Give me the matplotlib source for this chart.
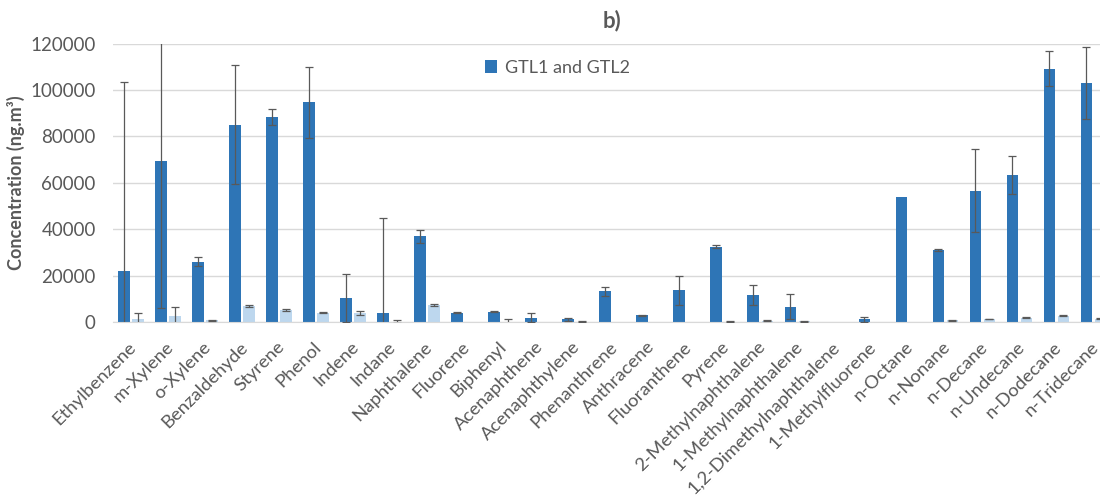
import numpy as np
import matplotlib
matplotlib.use("Agg")
import matplotlib.pyplot as plt
from matplotlib.transforms import ScaledTranslation

plt.rcParams['font.family'] = ['Lato', 'DejaVu Sans']

compounds = ["Ethylbenzene", "m-Xylene", "o-Xylene", "Benzaldehyde", "Styrene", "Phenol",
             "Indene", "Indane", "Naphthalene", "Fluorene", "Biphenyl", "Acenaphthene",
             "Acenaphthylene", "Phenanthrene", "Anthracene", "Fluoranthene", "Pyrene",
             "2-Methylnaphthalene", "1-Methylnaphthalene", "1,2-Dimethylnaphthalene",
             "1-Methylfluorene", "n-Octane", "n-Nonane", "n-Decane", "n-Undecane",
             "n-Dodecane", "n-Tridecane"]

# GTL1 and GTL2 (dark bars)
gtl = [22000, 69400, 26000, 85100, 88300, 94700, 10400, 3900, 36900, 3900, 4400, 1900,
       1150, 13200, 2900, 13600, 32500, 11600, 6500, 0, 1150, 53800, 31000, 56600,
       63400, 109200, 103200]
gtl_err = [81300, 63400, 1900, 25600, 3400, 15400, 10300, 40800, 2900, 200, 200, 1800,
           750, 1900, 150, 6200, 700, 4200, 5400, 0, 1100, 0, 300, 17900,
           8300, 7500, 15500]

# second series (light bars)
other = [1300, 2700, 700, 6900, 5200, 4000, 3750, 150, 7300, 0, 100, 0,
         200, 0, 0, 0, 150, 500, 250, 0, 0, 0, 700, 1300,
         1850, 2600, 1500]
other_err = [2400, 3600, 200, 300, 300, 300, 900, 500, 400, 0, 1000, 0,
             100, 0, 0, 0, 100, 150, 100, 0, 0, 0, 150, 200,
             200, 200, 200]

dark = '#2E75B6'
light = '#BDD7EE'
grey = '#595959'

fig = plt.figure(figsize=(11, 5.01), dpi=100)
ax = fig.add_axes([0.1023, 0.3573, 0.9085, 0.5555])

x = np.arange(len(compounds))
w = 0.31
off = 0.19
ax.bar(x - off, gtl, w, color=dark, label='GTL1 and GTL2', zorder=2)
ax.bar(x + off, other, w, color=light, zorder=2)

g = np.array(gtl, float)
ge = np.array(gtl_err, float)
o = np.array(other, float)
oe = np.array(other_err, float)
m1 = ge > 0
m2 = oe > 0
ax.errorbar(x[m1] - off, g[m1], yerr=ge[m1], fmt='none', ecolor=grey, elinewidth=0.9,
            capsize=3, capthick=0.9, zorder=3)
ax.errorbar(x[m2] + off, o[m2], yerr=oe[m2], fmt='none', ecolor=grey, elinewidth=0.9,
            capsize=3, capthick=0.9, zorder=3)

ax.set_xlim(-0.5, len(compounds) - 0.5)
ax.set_ylim(0, 120000)
ax.set_yticks(np.arange(0, 120001, 20000))
ax.yaxis.grid(True, color='#D9D9D9', linewidth=1)
ax.set_axisbelow(True)
for s in ['top', 'right', 'left']:
    ax.spines[s].set_visible(False)
ax.spines['bottom'].set_color('#D9D9D9')
ax.tick_params(axis='both', length=0, colors=grey)
ax.tick_params(axis='y', pad=12, labelsize=13.5)
ax.tick_params(axis='x', pad=12, labelsize=13.3)
ax.set_xticks(x)
ax.set_xticklabels(compounds, rotation=45, ha='right', rotation_mode='anchor')
shift = ScaledTranslation(-3 / 100, 0, fig.dpi_scale_trans)
for lab in ax.get_xticklabels():
    lab.set_transform(lab.get_transform() + shift)
ax.set_ylabel('Concentration (ng.m³)', color=grey, fontsize=13, fontweight='bold')
ax.set_title('b)', color=grey, fontsize=16, fontweight='bold', pad=12)
ax.legend(loc='upper center', bbox_to_anchor=(0.445, 1.0), frameon=False, fontsize=13,
          handlelength=0.7, handleheight=0.7, handletextpad=0.4, labelcolor=grey)

fig.savefig('out.png', dpi=100)
